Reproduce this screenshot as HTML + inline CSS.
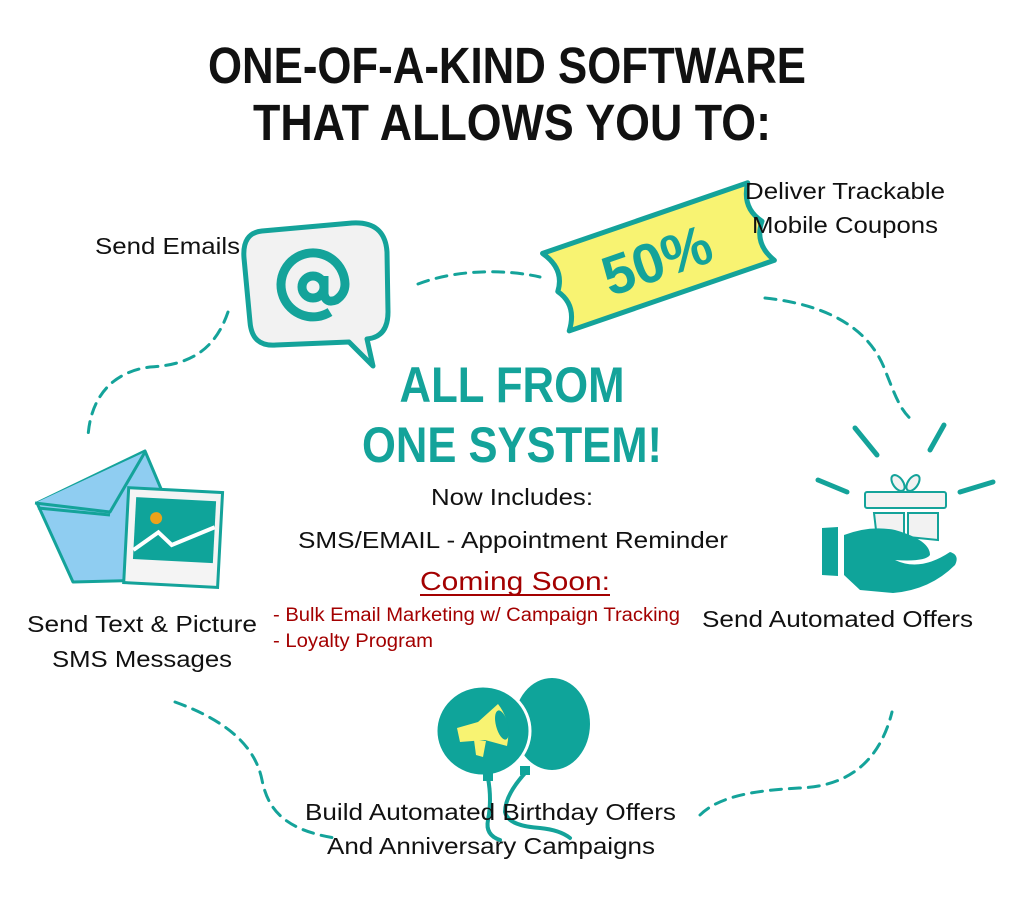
<!DOCTYPE html>
<html><head><meta charset="utf-8"><style>
html,body{margin:0;padding:0;background:#fff;}
svg{display:block;}
text{font-family:"Liberation Sans",sans-serif;}
</style></head><body>
<svg width="1024" height="921" viewBox="0 0 1024 921" xmlns="http://www.w3.org/2000/svg">
<rect width="1024" height="921" fill="#fff"/>
<!-- title -->
<text x="208" y="83" font-size="51" font-weight="bold" fill="#111" textLength="598" lengthAdjust="spacingAndGlyphs">ONE-OF-A-KIND SOFTWARE</text>
<text x="253" y="140" font-size="51" font-weight="bold" fill="#111" textLength="518" lengthAdjust="spacingAndGlyphs">THAT ALLOWS YOU TO:</text>

<!-- dashed connectors -->
<g fill="none" stroke="#14a39a" stroke-width="3" stroke-dasharray="11 8" stroke-linecap="round">
<path d="M228 312 C215 350 190 365 150 367 C110 372 90 400 88 437"/>
<path d="M418 284 C460 268 510 270 540 277"/>
<path d="M765 298 C830 305 870 330 885 370 C895 395 900 410 912 420"/>
<path d="M175 702 C225 720 255 745 262 780 C268 810 285 830 335 838"/>
<path d="M700 815 C720 795 760 790 800 788 C850 786 880 760 892 712"/>
</g>

<!-- speech bubble -->
<path d="M262 231 L352 223 Q385 221 387 252 L388 312 Q388 337 367 339 L373 366 L349 342 L276 345 Q252 347 250 322 L244 258 Q242 233 262 231 Z" fill="#f2f2f2" stroke="#14a39a" stroke-width="5" stroke-linejoin="round"/>
<g fill="none" stroke="#14a39a" stroke-width="9">
<circle cx="313" cy="287" r="11"/>
<path d="M324 276 L324 294 Q326 304 336 300 Q345 294 345 284 A32 32 0 1 0 330 312"/>
</g>

<!-- coupon -->
<g transform="rotate(-19 658 257)">
<path d="M550 216 L767 216 Q753 238 768 257 Q753 276 767 298 L550 298 Q566 276 552 257 Q566 238 550 216 Z" fill="#f8f372" stroke="#14a39a" stroke-width="5" stroke-linejoin="round"/>
<text x="656" y="279" font-size="56" font-weight="bold" fill="#14a39a" text-anchor="middle">50%</text>
</g>

<!-- envelope -->
<g stroke="#14a39a" stroke-width="3" stroke-linejoin="round">
<path d="M37 503 L145 451 L170 510 L155 580 L73 582 Z" fill="#8fcdf1"/>
<path d="M35 503 L110 512 L145 452" fill="#8fcdf1"/>
<path d="M38 508 L110 515" fill="none"/>
</g>
<g transform="rotate(3 172 540)">
<rect x="126" y="490" width="94" height="95" fill="#f4f4f4" stroke="#14a39a" stroke-width="3"/>
<rect x="134" y="499" width="80" height="62" fill="#0fa49a"/>
<circle cx="155" cy="519" r="6" fill="#eaa21b"/>
<path d="M134 552 L158 533 L172 545 L214 525" fill="none" stroke="#fff" stroke-width="4"/>
</g>

<!-- gift & hand -->
<g stroke="#14a39a" stroke-width="5" stroke-linecap="round">
<line x1="855" y1="428" x2="877" y2="455"/>
<line x1="944" y1="425" x2="930" y2="450"/>
<line x1="818" y1="480" x2="847" y2="492"/>
<line x1="960" y1="492" x2="993" y2="482"/>
</g>
<g fill="#f2f2f2" stroke="#14a39a" stroke-width="2">
<ellipse cx="898" cy="483" rx="5" ry="9" transform="rotate(-35 898 483)"/>
<ellipse cx="913" cy="483" rx="5" ry="9" transform="rotate(35 913 483)"/>
<rect x="865" y="492" width="81" height="16" rx="2"/>
<path d="M874 513 L904 513 L904 537 L876 530 Z"/>
<path d="M908 513 L938 513 L938 540 L908 537 Z"/>
</g>
<path d="M822 528 L838 527 L838 576 L822 575 Z" fill="#0fa49a"/>
<path d="M844 535 Q870 525 895 530 Q930 540 930 555 Q925 562 895 560 Q920 572 950 552 Q960 555 955 565 Q930 590 893 593 L860 590 L844 575 Z" fill="#0fa49a"/>

<!-- balloons -->
<g fill="none" stroke="#14a39a" stroke-width="4" stroke-linecap="round">
<path d="M488 778 Q492 800 488 820 Q485 835 500 840"/>
<path d="M526 772 Q505 795 505 812 Q508 826 540 828 Q560 830 570 838"/>
</g>
<ellipse cx="552" cy="724" rx="38" ry="46" fill="#0fa49a"/>
<rect x="520" y="766" width="10" height="9" fill="#0fa49a"/>
<ellipse cx="483" cy="731" rx="47" ry="45" fill="#0fa49a" stroke="#fff" stroke-width="3"/>
<rect x="483" y="772" width="10" height="9" fill="#0fa49a"/>
<path d="M457 728 L478 722 L498 704 Q512 722 507 746 L485 740 L460 742 Z" fill="#f8f372"/>
<ellipse cx="502" cy="725" rx="6" ry="15" fill="#0fa49a" transform="rotate(-15 502 725)"/>
<path d="M474 740 L486 741 L483 757 L476 755 Z" fill="#f8f372"/>

<!-- center text -->
<text x="512" y="402" font-size="50" font-weight="bold" fill="#14a39a" text-anchor="middle" textLength="225" lengthAdjust="spacingAndGlyphs">ALL FROM</text>
<text x="512" y="462" font-size="50" font-weight="bold" fill="#14a39a" text-anchor="middle" textLength="300" lengthAdjust="spacingAndGlyphs">ONE SYSTEM!</text>
<text x="512" y="505" font-size="23" fill="#111" text-anchor="middle" textLength="162" lengthAdjust="spacingAndGlyphs">Now Includes:</text>
<text x="513" y="548" font-size="23" fill="#111" text-anchor="middle" textLength="430" lengthAdjust="spacingAndGlyphs">SMS/EMAIL - Appointment Reminder</text>
<text x="515" y="590" font-size="26" fill="#a30000" text-anchor="middle" textLength="190" lengthAdjust="spacingAndGlyphs">Coming Soon:</text>
<line x1="420" y1="595" x2="610" y2="595" stroke="#a30000" stroke-width="2"/>
<text x="273" y="621" font-size="19" fill="#a30000" textLength="407" lengthAdjust="spacingAndGlyphs">- Bulk Email Marketing w/ Campaign Tracking</text>
<text x="273" y="647" font-size="19" fill="#a30000" textLength="160" lengthAdjust="spacingAndGlyphs">- Loyalty Program</text>

<!-- labels -->
<g font-size="23" fill="#111">
<text x="95" y="254" textLength="145" lengthAdjust="spacingAndGlyphs">Send Emails</text>
<text x="745" y="199" textLength="200" lengthAdjust="spacingAndGlyphs">Deliver Trackable</text>
<text x="752" y="233" textLength="186" lengthAdjust="spacingAndGlyphs">Mobile Coupons</text>
<text x="27" y="632" textLength="230" lengthAdjust="spacingAndGlyphs">Send Text &amp; Picture</text>
<text x="52" y="667" textLength="180" lengthAdjust="spacingAndGlyphs">SMS Messages</text>
<text x="702" y="627" textLength="271" lengthAdjust="spacingAndGlyphs">Send Automated Offers</text>
<text x="305" y="820" textLength="371" lengthAdjust="spacingAndGlyphs">Build Automated Birthday Offers</text>
<text x="327" y="854" textLength="328" lengthAdjust="spacingAndGlyphs">And Anniversary Campaigns</text>
</g>
</svg>
</body></html>
